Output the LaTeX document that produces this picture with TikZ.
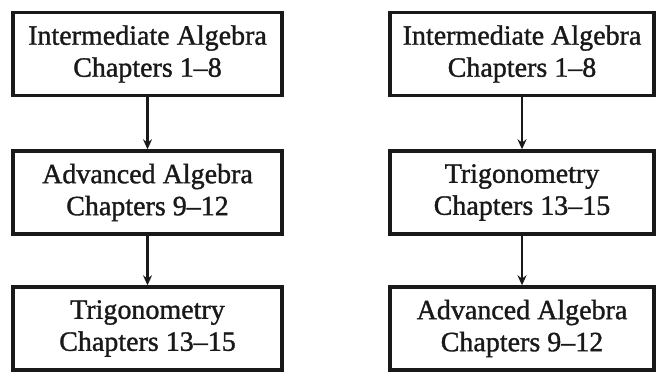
\documentclass[tikz,border=0pt]{standalone}
\usepackage{fontspec}
\setmainfont{Liberation Serif}[FakeBold=1.2]
\usetikzlibrary{arrows.meta}
\begin{document}
\begin{tikzpicture}[x=1pt,y=1pt,
  box/.style={draw=black!90, line width=3.4pt, minimum width=269pt, minimum height=83pt,
    align=center, inner sep=0pt, font=\fontsize{28}{32}\selectfont, text=black!90},
  arr/.style={draw=black!90, line width=2.2pt, -{Stealth[length=10pt,width=9pt]}}]
\useasboundingbox (0,0) rectangle (658,373);
\node[box] (l1) at (147.5,319) {Intermediate Algebra\\Chapters 1--8};
\node[box] (l2) at (147.5,180.5) {Advanced Algebra\\Chapters 9--12};
\node[box] (l3) at (147.5,44.5) {Trigonometry\\Chapters 13--15};
\node[box, minimum width=264pt] (r1) at (522,319) {Intermediate Algebra\\Chapters 1--8};
\node[box, minimum width=264pt] (r2) at (522,180.5) {Trigonometry\\Chapters 13--15};
\node[box, minimum width=264pt] (r3) at (522,44.5) {Advanced Algebra\\Chapters 9--12};
\draw[arr] (l1) -- (l2);
\draw[arr] (l2) -- (l3);
\draw[arr] (r1) -- (r2);
\draw[arr] (r2) -- (r3);
\end{tikzpicture}
\end{document}
